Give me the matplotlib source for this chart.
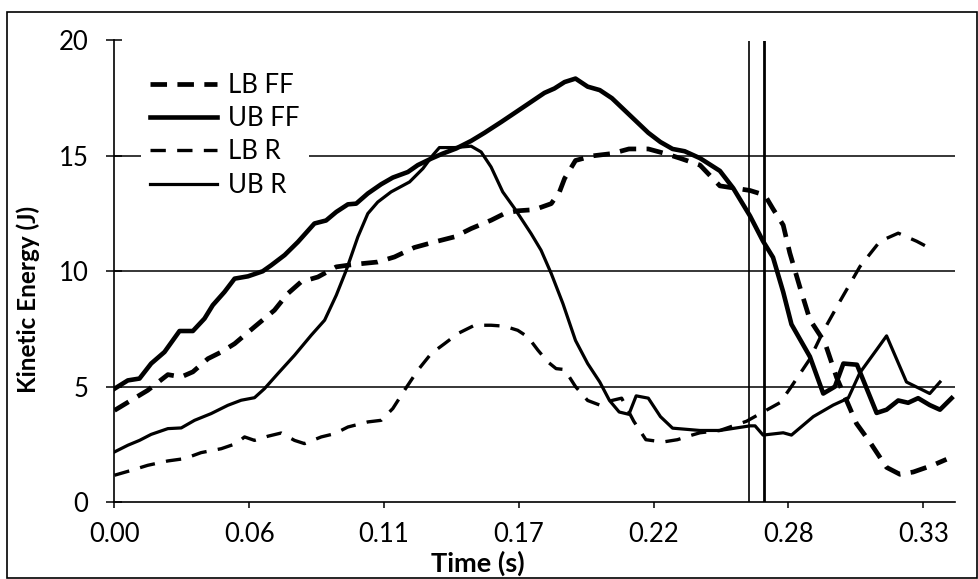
import matplotlib
matplotlib.use("Agg")
import matplotlib.pyplot as plt
from matplotlib.patches import Rectangle
from matplotlib.ticker import FixedLocator, FuncFormatter

plt.rcParams['font.family'] = ['Lato', 'DejaVu Sans']

# ---- data: time (s) and kinetic energy (J) ----
lb_ff_t = [0.0, 0.0069, 0.0137, 0.022, 0.0275, 0.0323, 0.0385, 0.044, 0.0495, 0.0577,
           0.0659, 0.0714, 0.0769, 0.0838, 0.0914, 0.0989, 0.1085, 0.1154, 0.1236, 0.1319,
           0.1401, 0.147, 0.1552, 0.1607, 0.1662, 0.1731, 0.18, 0.1834, 0.1855, 0.19,
           0.197, 0.205, 0.212, 0.22, 0.227, 0.233, 0.2413, 0.2495, 0.2619, 0.268,
           0.2714, 0.2756, 0.2783, 0.2825, 0.2866, 0.2928, 0.2976, 0.3017, 0.3058, 0.3113,
           0.3182, 0.3237, 0.3292, 0.3374, 0.3429]
lb_ff_e = [3.97, 4.41, 4.84, 5.52, 5.42, 5.64, 6.21, 6.5, 6.86, 7.59,
           8.31, 9.03, 9.54, 9.75, 10.19, 10.3, 10.4, 10.62, 11.03, 11.27,
           11.49, 11.85, 12.21, 12.5, 12.62, 12.67, 12.93, 13.44, 14.02, 14.8,
           15.0, 15.1, 15.3, 15.3, 15.1, 14.9, 14.6, 13.7, 13.5, 13.3,
           12.7, 12.0, 10.8, 9.3, 7.9, 6.9, 5.4, 4.4, 3.4, 2.6,
           1.5, 1.2, 1.3, 1.6, 1.85]

ub_ff_t = [0.0, 0.0055, 0.0103, 0.0151, 0.0206, 0.0268, 0.0323, 0.0371, 0.0405, 0.0453,
           0.0495, 0.055, 0.0611, 0.0646, 0.0701, 0.0756, 0.0824, 0.0872, 0.0914, 0.0962,
           0.0996, 0.1044, 0.1099, 0.1147, 0.1209, 0.125, 0.1305, 0.1353, 0.1408, 0.147,
           0.1525, 0.1594, 0.1662, 0.1717, 0.1772, 0.1813, 0.1855, 0.19, 0.195, 0.2,
           0.205, 0.21, 0.215, 0.22, 0.225, 0.23, 0.235, 0.2413, 0.2495, 0.255,
           0.2619, 0.2673, 0.2714, 0.2756, 0.279, 0.2866, 0.2921, 0.2969, 0.3004, 0.306,
           0.3141, 0.3182, 0.323, 0.3271, 0.3312, 0.336, 0.3402, 0.345]
ub_ff_e = [4.91, 5.27, 5.35, 6.0, 6.5, 7.41, 7.41, 7.95, 8.53, 9.1,
           9.68, 9.78, 10.0, 10.26, 10.7, 11.27, 12.07, 12.2, 12.57, 12.9,
           12.93, 13.37, 13.77, 14.06, 14.3, 14.6, 14.88, 15.1, 15.32, 15.65,
           16.0, 16.47, 16.95, 17.34, 17.73, 17.92, 18.2, 18.35, 18.0, 17.85,
           17.5, 17.0, 16.5, 16.0, 15.6, 15.3, 15.2, 14.9, 14.35, 13.6,
           12.4, 11.3, 10.6, 9.1, 7.7, 6.3, 4.7, 5.0, 6.0, 5.95,
           3.86, 4.0, 4.4, 4.3, 4.5, 4.2, 4.0, 4.5]

lb_r_t = [0.0, 0.0069, 0.0137, 0.022, 0.0289, 0.0357, 0.044, 0.0501, 0.0536, 0.0577,
          0.0632, 0.0687, 0.0742, 0.0783, 0.0852, 0.0907, 0.0962, 0.1044, 0.1099, 0.1147,
          0.1195, 0.125, 0.1305, 0.136, 0.1415, 0.1484, 0.1552, 0.1607, 0.1662, 0.1704,
          0.1745, 0.1786, 0.182, 0.1855, 0.19, 0.195, 0.2, 0.205, 0.209, 0.214,
          0.219, 0.226, 0.232, 0.238, 0.2413, 0.2495, 0.2605, 0.2673, 0.2742, 0.2783,
          0.2866, 0.2921, 0.299, 0.3072, 0.3155, 0.323, 0.3306, 0.336]
lb_r_e = [1.16, 1.37, 1.59, 1.78, 1.88, 2.14, 2.31, 2.53, 2.82, 2.67,
          2.85, 2.99, 2.67, 2.53, 2.82, 2.96, 3.25, 3.47, 3.54, 4.05,
          4.84, 5.71, 6.43, 6.86, 7.3, 7.66, 7.66, 7.62, 7.44, 7.15,
          6.58, 6.07, 5.78, 5.74, 5.0, 4.4, 4.2, 4.4, 4.5, 3.5,
          2.7, 2.6, 2.7, 2.9, 3.0, 3.1, 3.5, 3.9, 4.3, 4.9,
          6.2, 7.4, 8.7, 10.2, 11.3, 11.65, 11.3, 11.0]

ub_r_t = [0.0, 0.0055, 0.0103, 0.0151, 0.022, 0.0275, 0.033, 0.0398, 0.0467, 0.0522,
          0.0577, 0.0618, 0.0673, 0.0742, 0.0811, 0.0866, 0.0914, 0.0955, 0.1003, 0.1044,
          0.1085, 0.114, 0.1216, 0.1271, 0.1312, 0.1339, 0.1401, 0.147, 0.1511, 0.1552,
          0.16, 0.1649, 0.1717, 0.1758, 0.18, 0.1848, 0.19, 0.195, 0.2, 0.204,
          0.208, 0.212, 0.215, 0.22, 0.225, 0.23, 0.2413, 0.2495, 0.2619, 0.264,
          0.2673, 0.2756, 0.279, 0.288, 0.2962, 0.3024, 0.3072, 0.3141, 0.3182, 0.3264,
          0.336, 0.3402]
ub_r_e = [2.17, 2.46, 2.67, 2.93, 3.18, 3.21, 3.54, 3.83, 4.19, 4.41,
          4.52, 4.91, 5.56, 6.36, 7.23, 7.88, 8.96, 10.04, 11.49, 12.5,
          13.0, 13.44, 13.87, 14.45, 15.03, 15.36, 15.36, 15.42, 15.17, 14.52,
          13.44, 12.72, 11.63, 10.91, 9.9, 8.6, 7.0, 6.0, 5.2, 4.4,
          3.9, 3.8, 4.6, 4.5, 3.7, 3.2, 3.1, 3.1, 3.3, 3.3,
          2.9, 3.0, 2.9, 3.7, 4.2, 4.5, 5.6, 6.6, 7.2, 5.2,
          4.7, 5.2]

marker_times = [0.2615, 0.2677]
tick_times = [0.0, 1 / 18, 2 / 18, 3 / 18, 4 / 18, 5 / 18, 6 / 18]
y_ticks = [0, 5, 10, 15, 20]

W, H = 979, 579
fig = plt.figure(figsize=(W / 100, H / 100), dpi=100)
ax_l, ax_r, ax_t, ax_b = 114.5, 955, 40.5, 502
ax = fig.add_axes([ax_l / W, 1 - ax_b / H, (ax_r - ax_l) / W, (ax_b - ax_t) / H])

# outer chart border
fig.patches.append(Rectangle((7 / W, 1.5 / H), 970.5 / W, (577.5 - 12) / H,
                             transform=fig.transFigure, fill=False,
                             edgecolor='black', linewidth=1.2))

ax.set_xlim(0, 0.3464)
ax.set_ylim(0, 20)

for v in y_ticks[1:]:
    ax.axhline(v, color='black', linewidth=1.1, zorder=1)

ax.axvline(marker_times[0], color='black', linewidth=1.2, zorder=2)
ax.axvline(marker_times[1], color='black', linewidth=2.0, zorder=2)

ax.plot(lb_ff_t, lb_ff_e, color='black', linewidth=3.4, dashes=(3.5, 2.2),
        label='LB FF', zorder=3)
ax.plot(ub_ff_t, ub_ff_e, color='black', linewidth=3.3, label='UB FF', zorder=3)
ax.plot(lb_r_t, lb_r_e, color='black', linewidth=2.4, dashes=(4.6, 3.4),
        label='LB R', zorder=3)
ax.plot(ub_r_t, ub_r_e, color='black', linewidth=2.3, label='UB R', zorder=3)

for s in ['top', 'right']:
    ax.spines[s].set_visible(False)
for s in ['left', 'bottom']:
    ax.spines[s].set_linewidth(1.2)
    ax.spines[s].set_color('black')

ax.xaxis.set_major_locator(FixedLocator(tick_times))
ax.xaxis.set_major_formatter(FuncFormatter(lambda v, p: f"{v:.2f}"))
ax.yaxis.set_major_locator(FixedLocator(y_ticks))
ax.tick_params(axis='x', direction='out', length=4.5, width=1.1, pad=10,
               labelsize=18.5, color='black')
ax.tick_params(axis='y', direction='inout', length=11.5, width=1.1, pad=13,
               labelsize=18.5, color='black')

ax.set_xlabel('Time (s)', fontsize=19.5, fontweight='bold', labelpad=0)
ax.xaxis.set_label_coords((478 - ax_l) / (ax_r - ax_l), -(551 - ax_b) / (ax_b - ax_t))
ax.set_ylabel('Kinetic Energy (J)', fontsize=17.5, fontweight='bold')
ax.yaxis.set_label_coords(-(ax_l - 40) / (ax_r - ax_l), (ax_b - 299) / (ax_b - ax_t))

leg = ax.legend(loc='upper left', bbox_to_anchor=((141 - ax_l) / (ax_r - ax_l),
                                                   (ax_b - 64) / (ax_b - ax_t)),
                frameon=True, fancybox=False, framealpha=1, facecolor='white',
                edgecolor='none', borderpad=0.35, handlelength=2.6,
                handletextpad=0.45, labelspacing=0.32, fontsize=18.5,
                borderaxespad=0)
leg.set_zorder(5)

fig.savefig('out.png', dpi=100, facecolor='white')
